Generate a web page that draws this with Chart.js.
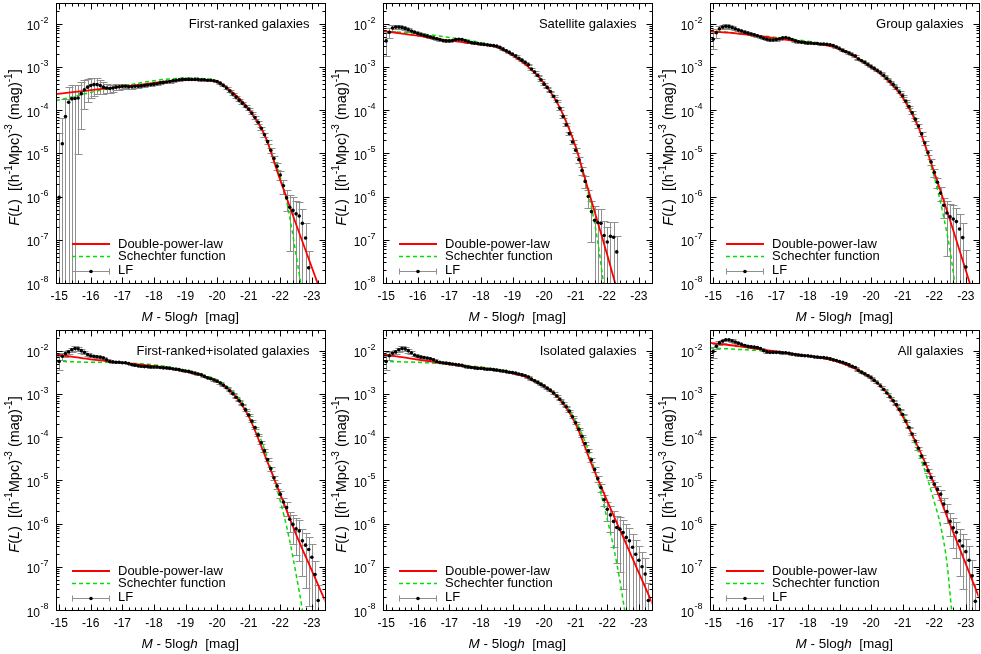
<!DOCTYPE html>
<html>
<head>
<meta charset="utf-8">
<script src="https://cdn.jsdelivr.net/npm/chart.js@4.4.0/dist/chart.umd.min.js"></script>
<style>
  html, body { margin:0; padding:0; background:#fff; }
  #wrap { position:relative; width:981px; height:654px; overflow:hidden; }
  #wrap canvas { position:absolute; }
</style>
</head>
<body>
<div id="wrap"></div>
<script>
// absolute magnitude grid of the LF points (M - 5logh)
const MAG = [-15.0,-15.1,-15.2,-15.3,-15.4,-15.5,-15.6,-15.7,-15.8,-15.9,-16.0,-16.1,-16.2,-16.3,-16.4,
  -16.5,-16.6,-16.7,-16.8,-16.9,-17.0,-17.1,-17.2,-17.3,-17.4,-17.5,-17.6,-17.7,-17.8,-17.9,-18.0,
  -18.1,-18.2,-18.3,-18.4,-18.5,-18.6,-18.7,-18.8,-18.9,-19.0,-19.1,-19.2,-19.3,-19.4,-19.5,-19.6,
  -19.7,-19.8,-19.9,-20.0,-20.1,-20.2,-20.3,-20.4,-20.5,-20.6,-20.7,-20.8,-20.9,-21.0,-21.1,-21.2,
  -21.3,-21.4,-21.5,-21.6,-21.7,-21.8,-21.9,-22.0,-22.1,-22.2,-22.3,-22.4,-22.5,-22.6,-22.7,-22.8,
  -22.9,-23.0,-23.1,-23.2,-23.3];

const X_TICKS = [-15,-16,-17,-18,-19,-20,-21,-22,-23];
const Y_EXPS  = [-2,-3,-4,-5,-6,-7,-8];

// LF values, log10 F(L)
const LF_FIRST = [-6.02,-4.78,-4.15,-3.82,-3.74,-3.73,-3.72,-3.62,
  -3.53,-3.47,-3.43,-3.41,-3.41,-3.43,-3.47,-3.49,
  -3.50,-3.49,-3.47,-3.46,-3.45,-3.45,-3.46,-3.46,
  -3.45,-3.45,-3.44,-3.43,-3.42,-3.41,-3.40,-3.39,
  -3.37,-3.36,-3.35,-3.34,-3.32,-3.31,-3.30,-3.29,
  -3.29,-3.29,-3.29,-3.29,-3.29,-3.30,-3.30,
  -3.31,-3.31,-3.32,-3.34,-3.38,-3.43,-3.49,-3.56,
  -3.63,-3.70,-3.77,-3.84,-3.91,-3.98,-4.07,-4.17,
  -4.28,-4.42,-4.57,-4.73,-4.93,-5.12,-5.30,-5.50,
  -5.75,-6.03,-6.25,-6.32,-6.40,-6.45,-6.62,-6.96,-7.65];
const LF_SAT = [-2.40,-2.20,-2.10,-2.08,-2.08,-2.09,-2.11,-2.14,
  -2.17,-2.20,-2.23,-2.25,-2.27,-2.29,-2.31,-2.33,
  -2.35,-2.37,-2.39,-2.40,-2.40,-2.39,-2.37,-2.36,
  -2.37,-2.39,-2.42,-2.44,-2.45,-2.46,-2.47,-2.48,
  -2.49,-2.50,-2.51,-2.52,-2.55,-2.59,-2.63,-2.67,
  -2.71,-2.75,-2.80,-2.85,-2.90,-2.95,-3.05,
  -3.12,-3.20,-3.30,-3.40,-3.48,-3.57,-3.68,-3.79,
  -3.96,-4.15,-4.34,-4.54,-4.74,-4.93,-5.15,-5.40,
  -5.65,-6.00,-6.35,-6.55,-6.60,-6.62,-6.90,-7.05,
  -6.92,-6.94,-7.28];
const LF_GROUP = [-2.36,-2.21,-2.12,-2.08,-2.06,-2.07,-2.09,-2.12,
  -2.15,-2.17,-2.20,-2.22,-2.24,-2.26,-2.28,-2.31,
  -2.34,-2.36,-2.38,-2.38,-2.37,-2.35,-2.33,-2.32,
  -2.34,-2.37,-2.40,-2.42,-2.43,-2.44,-2.45,-2.45,
  -2.46,-2.46,-2.47,-2.47,-2.48,-2.49,-2.51,-2.54,
  -2.58,-2.62,-2.65,-2.68,-2.72,-2.75,-2.82,
  -2.86,-2.90,-2.95,-3.00,-3.04,-3.09,-3.14,-3.20,
  -3.27,-3.34,-3.41,-3.49,-3.58,-3.67,-3.79,-3.92,
  -4.06,-4.21,-4.37,-4.55,-4.76,-4.98,-5.20,-5.44,
  -5.67,-5.92,-6.20,-6.38,-6.47,-6.52,-6.58,-6.75,-6.95,-7.63];
const LF_FRISO = [-2.25,-2.13,-2.07,-2.03,-1.98,-1.95,-1.96,-2.00,
  -2.04,-2.09,-2.12,-2.13,-2.14,-2.15,-2.17,-2.21,
  -2.25,-2.26,-2.27,-2.27,-2.28,-2.28,-2.30,-2.32,
  -2.34,-2.35,-2.36,-2.37,-2.37,-2.38,-2.38,-2.38,
  -2.39,-2.40,-2.40,-2.41,-2.42,-2.43,-2.44,-2.46,
  -2.47,-2.48,-2.50,-2.52,-2.54,-2.56,-2.60,
  -2.63,-2.65,-2.68,-2.71,-2.75,-2.80,-2.86,-2.93,
  -3.00,-3.08,-3.16,-3.25,-3.37,-3.49,-3.63,-3.78,
  -3.95,-4.13,-4.32,-4.52,-4.73,-4.94,-5.13,-5.32,
  -5.50,-5.63,-5.90,-6.02,-6.12,-6.17,-6.40,-6.50,-6.60,-6.78,-7.18,-7.78];
const LF_ISO = [-2.25,-2.12,-2.06,-2.03,-1.98,-1.95,-1.96,-2.00,
  -2.05,-2.10,-2.13,-2.15,-2.16,-2.17,-2.19,-2.21,
  -2.25,-2.27,-2.28,-2.29,-2.30,-2.31,-2.32,-2.33,
  -2.34,-2.36,-2.38,-2.39,-2.40,-2.41,-2.41,-2.42,
  -2.43,-2.43,-2.44,-2.45,-2.46,-2.47,-2.48,-2.50,
  -2.51,-2.52,-2.54,-2.56,-2.58,-2.61,-2.66,
  -2.70,-2.74,-2.78,-2.82,-2.87,-2.92,-2.98,-3.05,
  -3.13,-3.21,-3.30,-3.40,-3.53,-3.67,-3.82,-3.98,
  -4.15,-4.32,-4.53,-4.75,-4.96,-5.17,-5.45,-5.67,
  -5.80,-5.95,-6.09,-6.13,-6.21,-6.32,-6.40,-6.55,-6.71,-6.85,-7.00,-7.17,-7.78];
const LF_ALL = [-2.02,-1.90,-1.82,-1.78,-1.75,-1.75,-1.77,-1.80,
  -1.83,-1.86,-1.88,-1.90,-1.91,-1.92,-1.93,-1.95,
  -2.00,-2.03,-2.04,-2.04,-2.04,-2.04,-2.05,-2.05,
  -2.06,-2.08,-2.09,-2.10,-2.11,-2.12,-2.12,-2.13,
  -2.14,-2.15,-2.16,-2.16,-2.17,-2.19,-2.21,-2.23,
  -2.25,-2.27,-2.30,-2.33,-2.36,-2.39,-2.46,
  -2.50,-2.54,-2.58,-2.63,-2.69,-2.75,-2.82,-2.90,
  -2.98,-3.07,-3.16,-3.25,-3.36,-3.48,-3.63,-3.78,
  -3.93,-4.09,-4.26,-4.44,-4.61,-4.78,-4.94,-5.09,
  -5.21,-5.32,-5.55,-5.72,-5.95,-6.10,-6.20,-6.40,-6.52,-6.65,-6.85,-7.21,-7.80];

// relative errors (sigma / F) of the LF points
const ERR_FIRST = [30,3,1.5,1.2,1.1,1.0,0.95,0.85,
  0.65,0.55,0.5,0.45,0.4,0.35,0.3,0.25,
  0.2,0.18,0.16,0.14,0.12,0.11,0.1,0.1,
  0.09,0.08,0.08,0.07,0.07,0.06,0.06,0.06,
  0.05,0.05,0.05,0.05,0.05,0.05,0.05,0.05,
  0.04,0.04,0.04,0.04,0.04,0.04,0.04,
  0.04,0.04,0.04,0.04,0.04,0.04,0.04,0.04,
  0.04,0.04,0.05,0.05,0.05,0.06,0.06,0.07,
  0.08,0.09,0.1,0.12,0.14,0.17,0.2,0.25,
  0.35,0.5,0.9,1.0,1.0,1.1,1.1,1.2,1.5];
const ERR_SAT = [0.55,0.25,0.15,0.12,0.1,0.1,0.08,0.07,
  0.06,0.06,0.06,0.06,0.06,0.06,0.06,0.06,
  0.05,0.05,0.05,0.05,0.05,0.05,0.05,0.05,
  0.04,0.04,0.04,0.04,0.04,0.04,0.04,0.04,
  0.03,0.03,0.03,0.03,0.03,0.03,0.03,0.03,
  0.03,0.03,0.03,0.03,0.03,0.03,0.03,
  0.03,0.03,0.04,0.04,0.04,0.05,0.05,0.05,
  0.06,0.07,0.08,0.1,0.12,0.14,0.17,0.22,
  0.3,0.45,0.8,1.1,1.1,1.2,1.2,1.2,
  1.2,1.2,1.3];
const ERR_GROUP = [0.4,0.25,0.15,0.12,0.1,0.1,0.08,0.07,
  0.06,0.06,0.06,0.06,0.06,0.06,0.06,0.06,
  0.05,0.05,0.05,0.05,0.05,0.05,0.05,0.05,
  0.04,0.04,0.04,0.04,0.04,0.04,0.04,0.04,
  0.03,0.03,0.03,0.03,0.03,0.03,0.03,0.03,
  0.03,0.03,0.03,0.03,0.03,0.03,0.03,
  0.03,0.03,0.03,0.03,0.03,0.03,0.03,0.03,
  0.03,0.03,0.04,0.04,0.04,0.05,0.05,0.06,
  0.07,0.08,0.09,0.1,0.12,0.14,0.17,0.2,
  0.25,0.35,0.5,0.9,1.0,1.1,1.1,1.2,1.2,1.5];
const ERR_FRISO = [0.35,0.2,0.15,0.12,0.12,0.12,0.12,0.1,
  0.08,0.07,0.06,0.06,0.05,0.05,0.05,0.05,
  0.04,0.04,0.04,0.04,0.04,0.04,0.04,0.04,
  0.03,0.03,0.03,0.03,0.03,0.03,0.03,0.03,
  0.03,0.03,0.03,0.03,0.03,0.03,0.03,0.03,
  0.03,0.03,0.03,0.03,0.03,0.03,0.03,
  0.03,0.03,0.03,0.03,0.03,0.03,0.03,0.03,
  0.03,0.03,0.03,0.04,0.04,0.04,0.05,0.05,
  0.06,0.07,0.08,0.09,0.1,0.12,0.14,0.17,
  0.25,0.35,0.5,0.65,0.75,0.8,0.85,0.9,0.95,1.0,1.1,1.3];
const ERR_ISO = [0.35,0.2,0.15,0.12,0.12,0.12,0.12,0.1,
  0.08,0.07,0.06,0.06,0.05,0.05,0.05,0.05,
  0.04,0.04,0.04,0.04,0.04,0.04,0.04,0.04,
  0.03,0.03,0.03,0.03,0.03,0.03,0.03,0.03,
  0.03,0.03,0.03,0.03,0.03,0.03,0.03,0.03,
  0.03,0.03,0.03,0.03,0.03,0.03,0.03,
  0.03,0.03,0.03,0.03,0.03,0.03,0.03,0.03,
  0.03,0.03,0.03,0.04,0.04,0.05,0.05,0.06,
  0.07,0.08,0.1,0.12,0.15,0.2,0.3,0.45,
  0.6,0.75,0.85,0.9,0.95,1.0,1.0,1.05,1.1,1.1,1.2,1.3,1.5];
const ERR_ALL = [0.3,0.15,0.1,0.08,0.07,0.07,0.07,0.06,
  0.05,0.05,0.05,0.05,0.05,0.05,0.05,0.05,
  0.04,0.04,0.04,0.04,0.04,0.04,0.04,0.04,
  0.03,0.03,0.03,0.03,0.03,0.03,0.03,0.03,
  0.03,0.03,0.03,0.03,0.03,0.03,0.03,0.03,
  0.02,0.02,0.02,0.02,0.02,0.02,0.02,
  0.02,0.02,0.02,0.02,0.02,0.02,0.02,0.02,
  0.02,0.02,0.03,0.03,0.03,0.03,0.04,0.04,
  0.05,0.06,0.07,0.08,0.09,0.1,0.12,0.15,
  0.2,0.25,0.35,0.45,0.55,0.65,0.75,0.85,0.9,1.0,1.1,1.3,1.5];

// fitted curves, [M, log10 F]
const DPL_FIRST = [[-14.9,-3.63],[-15.5,-3.58],[-16,-3.54],[-16.5,-3.50],[-17,-3.46],[-17.5,-3.42],[-18,-3.37],
  [-18.5,-3.33],[-19,-3.30],[-19.5,-3.30],[-20,-3.34],[-20.5,-3.60],[-21,-3.98],[-21.5,-4.57],[-22,-5.62],
  [-22.5,-6.64],[-23,-7.64],[-23.5,-8.64]];
const SCH_FIRST = [[-14.9,-3.78],[-15.5,-3.68],[-16,-3.59],[-16.5,-3.51],[-17,-3.44],[-17.5,-3.38],[-18,-3.32],
  [-18.5,-3.28],[-19,-3.26],[-19.5,-3.27],[-20,-3.33],[-20.5,-3.60],[-21,-3.97],[-21.5,-4.57],[-22,-5.55],
  [-22.2,-6.10],[-22.4,-6.90],[-22.5,-7.35],[-22.65,-8.0],[-22.8,-8.6]];
const DPL_SAT = [[-14.9,-2.17],[-15.5,-2.23],[-16,-2.28],[-16.5,-2.34],[-17,-2.39],[-17.5,-2.44],[-18,-2.48],
  [-18.5,-2.54],[-19,-2.73],[-19.5,-3.0],[-20,-3.38],[-20.5,-3.95],[-21,-4.85],[-21.3,-5.6],[-21.5,-6.1],
  [-21.8,-6.85],[-22,-7.35],[-22.25,-8.0],[-22.5,-8.6]];
const SCH_SAT = [[-14.9,-2.18],[-15.5,-2.20],[-16,-2.23],[-16.5,-2.27],[-17,-2.32],[-17.5,-2.37],[-18,-2.44],
  [-18.5,-2.53],[-19,-2.72],[-19.5,-3.0],[-20,-3.38],[-20.5,-3.95],[-21,-4.85],[-21.3,-5.65],[-21.5,-6.25],
  [-21.7,-7.05],[-21.88,-8.0],[-22,-8.6]];
const DPL_GROUP = [[-14.9,-2.18],[-15.5,-2.21],[-16,-2.25],[-16.5,-2.29],[-17,-2.34],[-17.5,-2.39],[-18,-2.44],
  [-18.5,-2.49],[-19,-2.58],[-19.5,-2.77],[-20,-3.0],[-20.5,-3.29],[-21,-3.71],[-21.5,-4.4],[-22,-5.44],
  [-22.5,-6.55],[-23,-7.71],[-23.5,-8.9]];
const SCH_GROUP = [[-14.9,-2.16],[-15.5,-2.20],[-16,-2.24],[-16.5,-2.28],[-17,-2.32],[-17.5,-2.36],[-18,-2.41],
  [-18.5,-2.47],[-19,-2.57],[-19.5,-2.76],[-20,-2.98],[-20.5,-3.26],[-21,-3.67],[-21.5,-4.38],[-22,-5.55],
  [-22.3,-6.48],[-22.5,-7.25],[-22.65,-8.0],[-22.8,-8.6]];
const DPL_FRISO = [[-14.9,-2.09],[-15.5,-2.15],[-16,-2.20],[-16.5,-2.24],[-17,-2.28],[-17.5,-2.32],[-18,-2.36],
  [-18.5,-2.41],[-19,-2.48],[-19.5,-2.57],[-20,-2.71],[-20.5,-2.99],[-21,-3.52],[-21.5,-4.4],[-22,-5.32],
  [-22.5,-6.25],[-23,-7.09],[-23.5,-7.92]];
const SCH_FRISO = [[-14.9,-2.25],[-15.5,-2.26],[-16,-2.27],[-16.5,-2.27],[-17,-2.28],[-17.5,-2.30],[-18,-2.33],
  [-18.5,-2.38],[-19,-2.45],[-19.5,-2.55],[-20,-2.68],[-20.5,-2.95],[-21,-3.44],[-21.5,-4.28],[-22,-5.48],
  [-22.3,-6.4],[-22.5,-7.17],[-22.7,-8.0],[-22.8,-8.5]];
const DPL_ISO = [[-14.9,-2.09],[-15.5,-2.15],[-16,-2.21],[-16.5,-2.26],[-17,-2.31],[-17.5,-2.36],[-18,-2.40],
  [-18.5,-2.45],[-19,-2.52],[-19.5,-2.63],[-20,-2.82],[-20.5,-3.13],[-21,-3.70],[-21.5,-4.62],[-22,-5.48],
  [-22.5,-6.31],[-23,-7.14],[-23.5,-7.97]];
const SCH_ISO = [[-14.9,-2.25],[-15.5,-2.26],[-16,-2.27],[-16.5,-2.29],[-17,-2.31],[-17.5,-2.34],[-18,-2.38],
  [-18.5,-2.43],[-19,-2.50],[-19.5,-2.61],[-20,-2.80],[-20.5,-3.10],[-21,-3.63],[-21.5,-4.52],[-22,-5.9],
  [-22.2,-6.55],[-22.4,-7.32],[-22.55,-8.0],[-22.7,-8.6]];
const DPL_ALL = [[-14.9,-1.82],[-15.5,-1.87],[-16,-1.92],[-16.5,-1.97],[-17,-2.02],[-17.5,-2.07],[-18,-2.12],
  [-18.5,-2.18],[-19,-2.27],[-19.5,-2.42],[-20,-2.63],[-20.5,-2.98],[-21,-3.52],[-21.5,-4.25],[-22,-5.09],
  [-22.5,-6.02],[-23,-6.94],[-23.5,-7.86]];
const SCH_ALL = [[-14.9,-1.94],[-15.5,-1.96],[-16,-1.98],[-16.5,-2.00],[-17,-2.03],[-17.5,-2.07],[-18,-2.12],
  [-18.5,-2.18],[-19,-2.26],[-19.5,-2.40],[-20,-2.62],[-20.5,-2.95],[-21,-3.47],[-21.5,-4.35],[-21.8,-5.0],
  [-22,-5.5],[-22.2,-6.05],[-22.4,-6.9],[-22.55,-8.0],[-22.7,-8.8]];

const PANELS = [
  { title:"First-ranked galaxies",          lf:LF_FIRST, err:ERR_FIRST, dpl:DPL_FIRST, sch:SCH_FIRST },
  { title:"Satellite galaxies",             lf:LF_SAT,   err:ERR_SAT,   dpl:DPL_SAT,   sch:SCH_SAT },
  { title:"Group galaxies",                 lf:LF_GROUP, err:ERR_GROUP, dpl:DPL_GROUP, sch:SCH_GROUP },
  { title:"First-ranked+isolated galaxies", lf:LF_FRISO, err:ERR_FRISO, dpl:DPL_FRISO, sch:SCH_FRISO },
  { title:"Isolated galaxies",              lf:LF_ISO,   err:ERR_ISO,   dpl:DPL_ISO,   sch:SCH_ISO },
  { title:"All galaxies",                   lf:LF_ALL,   err:ERR_ALL,   dpl:DPL_ALL,   sch:SCH_ALL },
];

const FONT = '"Liberation Sans", Arial, Helvetica, sans-serif';
const RED = "#ff0000", GREEN = "#00dd00", BAR = "#8f8f8f";

// draws text runs: [text, 'n' | 'i' | 's'(superscript)]
function runs(ctx, parts, x, y, size, draw) {
  let cx = x;
  for (const [t, s] of parts) {
    const fs = s === "s" ? Math.round(size * 0.72) : size;
    ctx.font = (s === "i" ? "italic " : "") + fs + "px " + FONT;
    if (draw) ctx.fillText(t, cx, s === "s" ? y - size * 0.42 : y);
    cx += ctx.measureText(t).width;
  }
  return cx - x;
}

function framePlugin(p) {
  return {
    id: "frame",
    beforeDatasetsDraw(chart) {
      const { ctx, chartArea: a, scales: { x, y } } = chart;
      ctx.save();
      ctx.beginPath();
      ctx.rect(a.left, a.top, a.right - a.left, a.bottom - a.top);
      ctx.clip();
      ctx.strokeStyle = BAR;
      ctx.lineWidth = 1;
      ctx.beginPath();
      p.lf.forEach((v, i) => {
        if (v == null) return;
        const f = Math.pow(10, v), e = p.err[i] * f;
        const px = Math.round(x.getPixelForValue(MAG[i])) + 0.5;
        const yh = Math.round(y.getPixelForValue(f + e)) + 0.5;
        const yl = f - e > 0 ? Math.round(y.getPixelForValue(f - e)) + 0.5 : a.bottom + 20;
        ctx.moveTo(px, yh); ctx.lineTo(px, yl);
        ctx.moveTo(px - 4, yh); ctx.lineTo(px + 4, yh);
        if (f - e > 0) { ctx.moveTo(px - 4, yl); ctx.lineTo(px + 4, yl); }
      });
      ctx.stroke();
      ctx.restore();
    },
    afterDraw(chart) {
      const { ctx, chartArea: a, scales: { x, y } } = chart;
      const L = Math.round(a.left) + 0.5, R = Math.round(a.right) + 0.5;
      const T = Math.round(a.top) + 0.5, B = Math.round(a.bottom) + 0.5;
      ctx.save();
      ctx.strokeStyle = "#000";
      ctx.lineWidth = 1;
      ctx.strokeRect(L, T, R - L, B - T);

      // ticks, inward on all four sides
      ctx.beginPath();
      for (let k = 0; k <= 42; k++) {
        const v = -15 - 0.2 * k;
        const px = Math.round(x.getPixelForValue(v)) + 0.5;
        const len = k % 5 === 0 ? 6 : 3;
        ctx.moveTo(px, B); ctx.lineTo(px, B - len);
        ctx.moveTo(px, T); ctx.lineTo(px, T + len);
      }
      for (let e = -8; e <= -2; e++) {
        for (let m = 1; m <= 9; m++) {
          const v = m * Math.pow(10, e);
          if (v > 0.03) continue;
          const py = Math.round(y.getPixelForValue(v)) + 0.5;
          const len = m === 1 ? 6 : 3;
          ctx.moveTo(L, py); ctx.lineTo(L + len, py);
          ctx.moveTo(R, py); ctx.lineTo(R - len, py);
        }
      }
      ctx.stroke();

      ctx.fillStyle = "#000";
      // x tick labels
      ctx.font = "12px " + FONT;
      ctx.textAlign = "center";
      ctx.textBaseline = "middle";
      X_TICKS.forEach(v => ctx.fillText(String(v), x.getPixelForValue(v), a.bottom + 13.5));

      // y tick labels 10^e
      ctx.textAlign = "left";
      ctx.textBaseline = "alphabetic";
      Y_EXPS.forEach(e => {
        const py = y.getPixelForValue(Math.pow(10, e));
        ctx.font = "12px " + FONT;
        const w1 = ctx.measureText("10").width;
        ctx.font = "9px " + FONT;
        const w2 = ctx.measureText(String(e)).width;
        const x0 = a.left - 8 - w1 - w2;
        ctx.font = "12px " + FONT;
        ctx.fillText("10", x0, py + 6.5);
        ctx.font = "9px " + FONT;
        ctx.fillText(String(e), x0 + w1 + 0.5, py - 1);
      });

      // x axis title
      const xt = [["M", "i"], [" - 5log", "n"], ["h", "i"], ["  [mag]", "n"]];
      ctx.textBaseline = "middle";
      const wx = runs(ctx, xt, 0, 0, 13.5, false);
      runs(ctx, xt, (a.left + a.right) / 2 - wx / 2, a.bottom + 34, 13.5, true);

      // y axis title
      const yt = [["F", "i"], ["(", "n"], ["L", "i"], [")", "n"], ["  [(h", "n"], ["-1", "s"], ["Mpc)", "n"],
        ["-3", "s"], [" (mag)", "n"], ["-1", "s"], ["]", "n"]];
      ctx.save();
      ctx.translate(18.5, (a.top + a.bottom) / 2 + 4.5);
      ctx.rotate(-Math.PI / 2);
      ctx.textBaseline = "alphabetic";
      const wy = runs(ctx, yt, 0, 0, 14.5, false);
      runs(ctx, yt, -wy / 2, 0, 14.5, true);
      ctx.restore();

      // panel title
      ctx.font = "13px " + FONT;
      ctx.textAlign = "right";
      ctx.textBaseline = "middle";
      ctx.fillText(p.title, a.right - 15, a.top + 21);

      // legend
      const lx0 = a.left + 16, lx1 = a.left + 54, tx = a.left + 62;
      const r1 = a.bottom - 39, r2 = a.bottom - 26.5, r3 = a.bottom - 12.5;
      ctx.textAlign = "left";
      ctx.font = "13px " + FONT;
      ctx.fillText("Double-power-law", tx, r1);
      ctx.fillText("Schechter function", tx, r2);
      ctx.fillText("LF", tx, r3);
      ctx.strokeStyle = RED; ctx.lineWidth = 2;
      ctx.beginPath(); ctx.moveTo(lx0, r1); ctx.lineTo(lx1, r1); ctx.stroke();
      ctx.strokeStyle = GREEN; ctx.lineWidth = 1.5; ctx.setLineDash([4, 3]);
      ctx.beginPath(); ctx.moveTo(lx0, r2); ctx.lineTo(lx1, r2); ctx.stroke();
      ctx.setLineDash([]);
      const r3p = Math.round(r3) + 0.5;
      ctx.strokeStyle = BAR; ctx.lineWidth = 1;
      ctx.beginPath();
      ctx.moveTo(lx0, r3p); ctx.lineTo(lx1, r3p);
      ctx.moveTo(lx0 + 0.5, r3p - 3); ctx.lineTo(lx0 + 0.5, r3p + 3);
      ctx.moveTo(lx1 - 0.5, r3p - 3); ctx.lineTo(lx1 - 0.5, r3p + 3);
      ctx.stroke();
      ctx.fillStyle = "#000";
      ctx.beginPath(); ctx.arc((lx0 + lx1) / 2, r3p, 1.8, 0, Math.PI * 2); ctx.fill();
      ctx.restore();
    }
  };
}

const curve = arr => arr.map(([m, v]) => ({ x: m, y: Math.pow(10, v) }));

const wrap = document.getElementById("wrap");
PANELS.forEach((p, k) => {
  const cv = document.createElement("canvas");
  cv.width = 327; cv.height = 327;
  cv.style.width = "327px"; cv.style.height = "327px";
  cv.style.left = (k % 3) * 327 + "px";
  cv.style.top = Math.floor(k / 3) * 327 + "px";
  wrap.appendChild(cv);

  const lfPts = [];
  p.lf.forEach((v, i) => { if (v != null) lfPts.push({ x: MAG[i], y: Math.pow(10, v) }); });

  new Chart(cv, {
    type: "scatter",
    data: {
      datasets: [
        { label: "LF", data: lfPts, showLine: false, pointRadius: 1.8, pointBackgroundColor: "#000",
          pointBorderWidth: 0, pointHoverRadius: 0 },
        { label: "Double-power-law", data: curve(p.dpl), showLine: true, borderColor: RED, borderWidth: 1.8,
          pointRadius: 0, cubicInterpolationMode: "monotone", fill: false },
        { label: "Schechter function", data: curve(p.sch), showLine: true, borderColor: GREEN, borderWidth: 1.5,
          borderDash: [4, 3], pointRadius: 0, cubicInterpolationMode: "monotone", fill: false }
      ]
    },
    options: {
      responsive: false,
      animation: false,
      devicePixelRatio: 1,
      events: [],
      layout: { padding: { left: 56, right: 2.5, top: 3, bottom: 44 } },
      plugins: { legend: { display: false }, tooltip: { enabled: false } },
      scales: {
        x: { type: "linear", reverse: true, min: -23.4, max: -14.9, display: false },
        y: { type: "logarithmic", min: 1e-8, max: 0.03, display: false }
      }
    },
    plugins: [framePlugin(p)]
  });
});
</script>
</body>
</html>
